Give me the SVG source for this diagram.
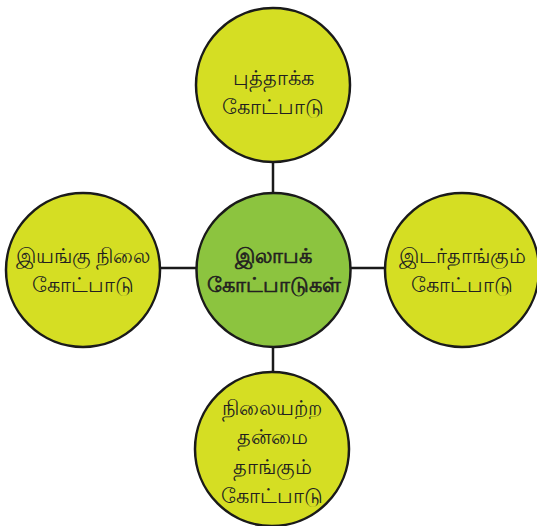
<svg xmlns="http://www.w3.org/2000/svg" width="537" height="526" viewBox="0 0 537 526">
<style>
.c{stroke:#1a1a1a;stroke-width:2.5}
.y{fill:#d5de23}
.g{fill:#8cc43f}
.t{font-family:"Noto Sans","DejaVu Sans",sans-serif;font-size:21px;fill:#231f20;text-anchor:middle}
.b{stroke:#231f20;stroke-width:0.7}
line{stroke:#1a1a1a;stroke-width:2.5}
</style>
<rect width="537" height="526" fill="#ffffff"/>
<g id="connectors">
<line x1="273" y1="162" x2="273" y2="193"/>
<line x1="273" y1="347" x2="273" y2="372"/>
<line x1="160" y1="268" x2="196" y2="268"/>
<line x1="351" y1="268" x2="386" y2="268"/>
</g>
<g id="center">
<circle class="c g" cx="273.5" cy="270" r="77"/>
<text class="t b" x="273.5" y="263">இலாபக்</text>
<text class="t b" x="273.5" y="292">கோட்பாடுகள்</text>
</g>
<g id="top">
<circle class="c y" cx="273" cy="85" r="77"/>
<text class="t" x="273" y="85">புத்தாக்க</text>
<text class="t" x="273" y="114">கோட்பாடு</text>
</g>
<g id="left">
<circle class="c y" cx="83" cy="270" r="77"/>
<text class="t" x="83" y="263">இயங்கு நிலை</text>
<text class="t" x="83" y="292">கோட்பாடு</text>
</g>
<g id="right">
<circle class="c y" cx="462" cy="270" r="77"/>
<text class="t" x="462" y="263">இடர்தாங்கும்</text>
<text class="t" x="462" y="292">கோட்பாடு</text>
</g>
<g id="bottom">
<circle class="c y" cx="272" cy="449" r="77"/>
<text class="t" x="272" y="415">நிலையற்ற</text>
<text class="t" x="272" y="444">தன்மை</text>
<text class="t" x="272" y="474">தாங்கும்</text>
<text class="t" x="272" y="503">கோட்பாடு</text>
</g>
</svg>
